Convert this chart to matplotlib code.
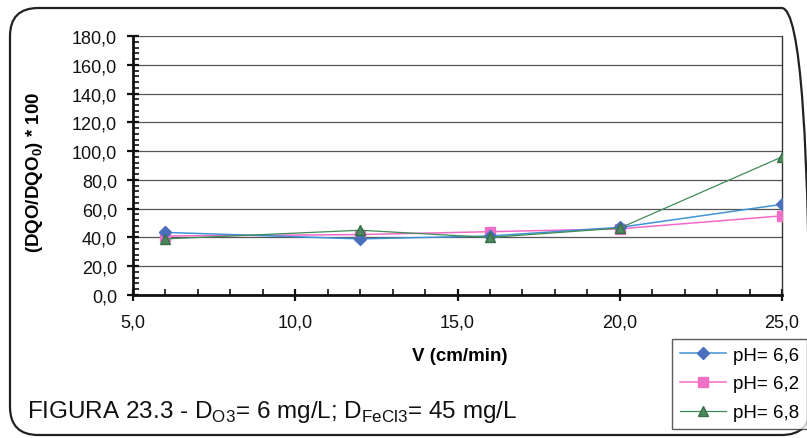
import matplotlib
matplotlib.use("Agg")
import matplotlib.pyplot as plt
from matplotlib.patches import FancyBboxPatch
from matplotlib.ticker import MultipleLocator, FuncFormatter

# Flow velocity (cm/min)
velocity = [6, 12, 16, 20, 25]

# (DQO/DQO0)*100 for each pH
ph_66 = [43.5, 39.0, 41.0, 47.0, 63.0]
ph_62 = [41.0, 42.0, 44.0, 46.0, 55.0]
ph_68 = [39.0, 45.0, 40.0, 46.5, 96.0]

series_labels = ["pH= 6,6", "pH= 6,2", "pH= 6,8"]

plt.rcParams["font.family"] = ["Liberation Sans", "DejaVu Sans"]
plt.rcParams["mathtext.fontset"] = "custom"
plt.rcParams["mathtext.rm"] = "Liberation Sans"
plt.rcParams["mathtext.bf"] = "Liberation Sans:bold"

W, H = 807, 439
fig = plt.figure(figsize=(W / 100, H / 100), dpi=100)

# rounded outer frame
frame = FancyBboxPatch((10 / W, 3 / H), 800 / W, 427 / H,
                       boxstyle="round,pad=0,rounding_size=0.035",
                       transform=fig.transFigure, fill=False,
                       edgecolor="#222222", linewidth=1.6,
                       mutation_aspect=W / H)
fig.patches.append(frame)

ax = fig.add_axes([133 / W, (H - 296) / H, (782 - 133) / W, (296 - 37) / H])

ax.plot(velocity, ph_66, color="#3f93d6", lw=1.1, marker="D", ms=6,
        mfc="#4a6fbd", mec="#4a6fbd", label=series_labels[0], zorder=4)
ax.plot(velocity, ph_62, color="#f26ac8", lw=1.1, marker="s", ms=6.5,
        mfc="#f070c8", mec="#f070c8", label=series_labels[1], zorder=3)
ax.plot(velocity, ph_68, color="#3f8c55", lw=0.9, marker="^", ms=7,
        mfc="#4a8a5c", mec="#3a6e48", label=series_labels[2], zorder=5)

ax.set_xlim(5, 25)
ax.set_ylim(0, 180)
ax.xaxis.set_major_locator(MultipleLocator(5))
ax.xaxis.set_minor_locator(MultipleLocator(1))
ax.yaxis.set_major_locator(MultipleLocator(20))
ax.yaxis.set_minor_locator(MultipleLocator(4))
fmt = FuncFormatter(lambda v, p: f"{v:.1f}".replace(".", ","))
ax.xaxis.set_major_formatter(fmt)
ax.yaxis.set_major_formatter(fmt)

ax.grid(axis="y", which="major", color="#555555", lw=0.9)
ax.set_axisbelow(True)
ax.spines["top"].set_visible(False)
ax.spines["right"].set_color("#333333")
ax.spines["right"].set_linewidth(1.0)
for s in ["left", "bottom"]:
    ax.spines[s].set_linewidth(2.0)
    ax.spines[s].set_color("#111111")

ax.tick_params(axis="both", which="major", direction="inout", length=9,
               width=1.6, labelsize=13, colors="#111111")
ax.tick_params(axis="both", which="minor", direction="in", length=4,
               width=1.2, colors="#111111")
ax.tick_params(axis="x", which="major", pad=9)
ax.tick_params(axis="y", which="major", pad=7)

ax.set_xlabel("V (cm/min)", fontsize=13.5, fontweight="bold")
ax.xaxis.set_label_coords(0.504, -0.2)
ax.set_ylabel(r"(DQO/DQO$_\mathbf{0}$) * 100", fontsize=13.5,
              fontweight="bold")
ax.yaxis.set_label_coords(-0.135, 0.479)

leg = fig.legend(loc="upper left", bbox_to_anchor=(672 / W, (H - 340) / H),
                 frameon=True, fancybox=False, edgecolor="#333333",
                 borderpad=0.4, labelspacing=0.62, handlelength=2.5,
                 handletextpad=0.35, borderaxespad=0,
                 prop={"family": "Liberation Sans", "size": 13.5})
leg.get_frame().set_linewidth(1.0)

fig.text(27 / W, (H - 418) / H,
         r"FIGURA 23.3 - D$_\mathregular{O3}$= 6 mg/L; D$_\mathregular{FeCl3}$= 45 mg/L",
         fontsize=17.5, color="#111111")

fig.savefig("out.png", dpi=100)
